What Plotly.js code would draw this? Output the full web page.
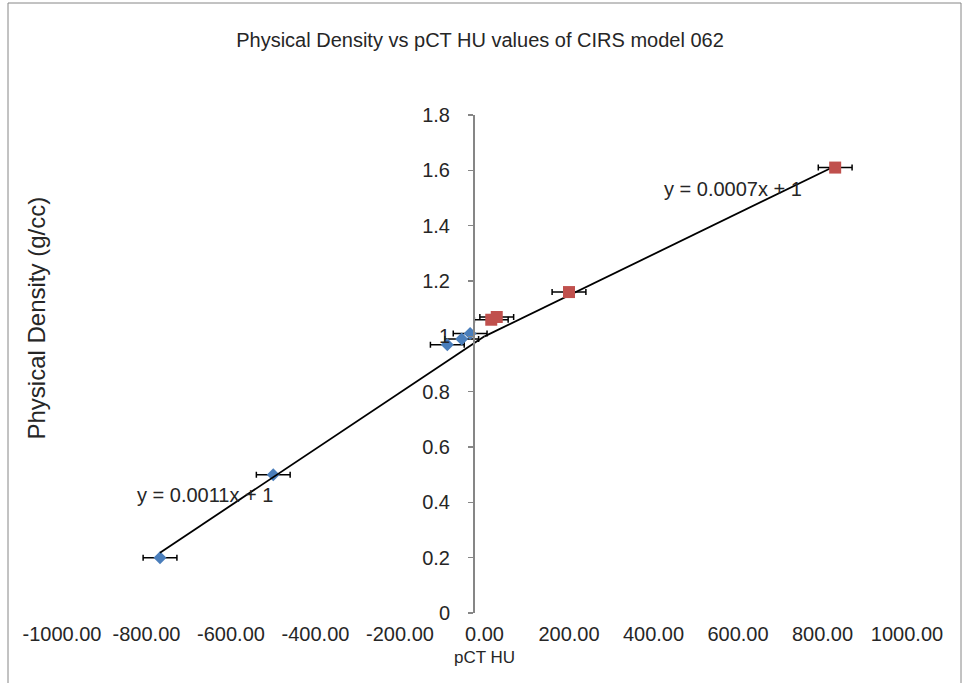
<!DOCTYPE html>
<html>
<head>
<meta charset="utf-8">
<script src="https://cdn.plot.ly/plotly-3.0.1.min.js"></script>
<style>html,body{margin:0;padding:0;background:#fff;}#chart{width:964px;height:683px;}</style>
</head>
<body>
<div id="chart"></div>
<script>
// Data
const chartTitle = "Physical Density vs pCT HU values of CIRS model 062";
const xTitle = "pCT HU";
const yTitle = "Physical Density (g/cc)";
const blueHU = [-768, -500, -88, -54, -34];
const blueDensity = [0.2, 0.5, 0.97, 0.99, 1.01];
const redHU = [16, 29, 200, 830];
const redDensity = [1.06, 1.07, 1.16, 1.61];
const errorHU = 40;
const blueEquation = "y = 0.0011x + 1";
const redEquation = "y = 0.0007x + 1";
const fixedIntercept = 1;
const xTickVals = [-1000, -800, -600, -400, -200, 0, 200, 400, 600, 800, 1000];
const xTickText = xTickVals.map(v => v.toFixed(2));
const yRange = [0, 1.8];

// Linear trendline with intercept set to 1 (as in the chart's equations)
function fitSlope(xs, ys, b) {
  let num = 0, den = 0;
  for (let i = 0; i < xs.length; i++) { num += xs[i] * (ys[i] - b); den += xs[i] * xs[i]; }
  return num / den;
}
const blueSlope = fitSlope(blueHU, blueDensity, fixedIntercept);
const redSlope = fitSlope(redHU, redDensity, fixedIntercept);
const blueLineX = [Math.min(...blueHU), 0];
const redLineX = [0, Math.max(...redHU)];

const FONT = "Liberation Sans, Arial, sans-serif";
const FS = 20;
const TXT = "#262626";
const AX = "#868686";
const L = 62, R = 57, T = 115, B = 70, W = 964, H = 683;
const pw = W - L - R, ph = H - T - B;
const px2paperX = p => (p - L) / pw;
const px2paperY = p => (H - B - p) / ph;

// The title-holding left axis uses a shorter domain (so its title sits higher, as in the
// reference); its range is set so that it maps values exactly like the main axis.
const titleDomainLo = 0.184;
const titleAxisRange = [yRange[0] + titleDomainLo * (yRange[1] - yRange[0]), yRange[1]];

const traces = [
  {
    x: blueHU, y: blueDensity, type: "scatter", mode: "markers", yaxis: "y2",
    marker: {symbol: "diamond", size: 10, color: "#4A7EBB"},
    error_x: {type: "constant", value: errorHU, color: "#000", thickness: 1.5, width: 3},
    showlegend: false
  },
  {
    x: redHU, y: redDensity, type: "scatter", mode: "markers", yaxis: "y2",
    marker: {symbol: "square", size: 12, color: "#C0504D"},
    error_x: {type: "constant", value: errorHU, color: "#000", thickness: 1.5, width: 3},
    showlegend: false
  },
  {
    x: blueLineX, y: blueLineX.map(v => fixedIntercept + blueSlope * v), type: "scatter", mode: "lines", yaxis: "y2",
    line: {color: "#000", width: 1.8}, showlegend: false
  },
  {
    x: redLineX, y: redLineX.map(v => fixedIntercept + redSlope * v), type: "scatter", mode: "lines", yaxis: "y",
    line: {color: "#000", width: 1.8}, showlegend: false
  }
];

const layout = {
  width: W, height: H,
  margin: {l: L, r: R, t: T, b: B, pad: 0},
  paper_bgcolor: "#fff", plot_bgcolor: "rgba(0,0,0,0)",
  font: {family: FONT, size: FS, color: TXT},
  title: {text: chartTitle, x: 480 / W, xref: "container", xanchor: "center", y: 1 - 40 / H, yanchor: "middle", yref: "container",
          font: {family: FONT, size: FS, color: TXT}},
  xaxis: {
    anchor: "y2",
    range: [-1000, 1000], tickmode: "array", tickvals: xTickVals, ticktext: xTickText,
    showline: false, zeroline: false, showgrid: false, ticks: "",
    ticklabelstandoff: 7,
    tickfont: {family: FONT, size: FS, color: TXT},
    title: {text: xTitle, font: {family: FONT, size: 17, color: TXT}, standoff: 7}
  },
  yaxis: {
    domain: [titleDomainLo, 1], range: titleAxisRange,
    showline: false, zeroline: false, showgrid: false, ticks: "",
    showticklabels: false,
    title: {text: yTitle, font: {family: FONT, size: 24, color: TXT}, standoff: 8}
  },
  yaxis2: {
    domain: [0, 1], range: yRange, dtick: 0.2, tick0: 0, anchor: "free", position: px2paperX(473), side: "left",
    showline: true, linecolor: AX, linewidth: 1.5, zeroline: false, showgrid: false,
    ticks: "outside", ticklen: 5, tickcolor: AX, tickwidth: 1.5,
    tickfont: {family: FONT, size: FS, color: TXT}, ticklabelstandoff: 14
  },
  annotations: [
    {x: -661, y: 0.426, xref: "x", yref: "y2", text: blueEquation, showarrow: false,
     font: {family: FONT, size: FS, color: TXT}, xanchor: "center", yanchor: "middle"},
    {x: 588, y: 1.532, xref: "x", yref: "y2", text: redEquation, showarrow: false,
     font: {family: FONT, size: FS, color: TXT}, xanchor: "center", yanchor: "middle"}
  ],
  shapes: [
    {type: "rect", xref: "paper", yref: "paper",
     x0: px2paperX(8), x1: px2paperX(961), y0: px2paperY(700), y1: px2paperY(3),
     line: {color: AX, width: 1}, fillcolor: "rgba(0,0,0,0)", layer: "below"}
  ]
};

Plotly.newPlot("chart", traces, layout, {staticPlot: true, displayModeBar: false});
</script>
</body>
</html>
